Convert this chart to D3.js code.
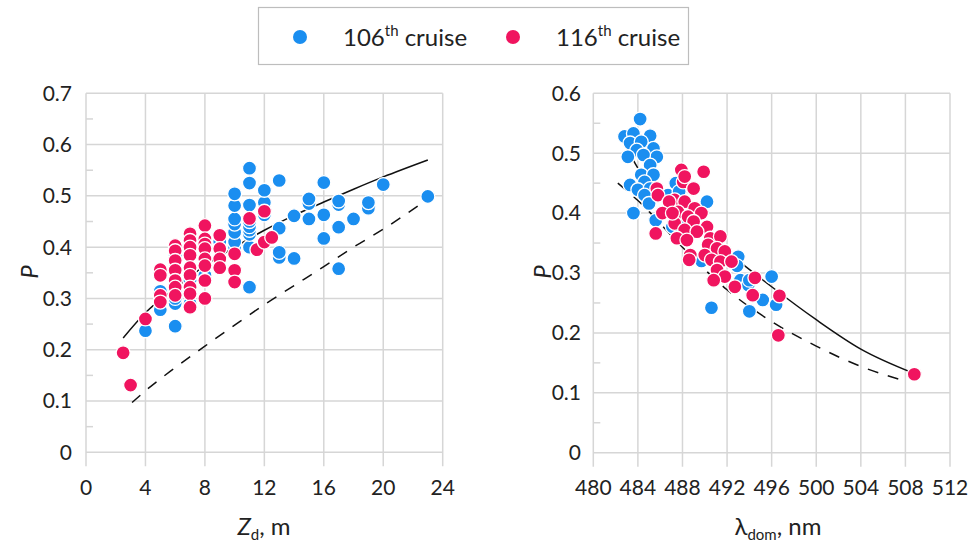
<!DOCTYPE html>
<html>
<head>
<meta charset="utf-8">
<script src="https://cdn.jsdelivr.net/npm/d3@7"></script>
<style>
  html, body { margin: 0; padding: 0; background: #fff; }
  svg { display: block; font-family: "Lato", "Open Sans", "Noto Sans", sans-serif; }
</style>
</head>
<body>
<svg id="chart" width="974" height="549"></svg>
<script>
// ---- Data: P vs Zd (left panel) ----
const zd106 = [4, 5, 5, 5, 6, 6, 6, 6, 6, 7, 7, 7, 8, 9,
  10, 10, 10, 10, 10, 10, 10, 11, 11, 11, 11, 11, 11, 11, 11, 11,
  12, 12, 12, 13, 13, 13, 13, 14, 14, 15, 15, 15, 16, 16, 16,
  17, 17, 17, 17, 18, 19, 19, 20, 23];
const pZd106 = [0.237, 0.278, 0.295, 0.314, 0.246, 0.29, 0.30, 0.315, 0.384, 0.29, 0.31, 0.335, 0.345, 0.41,
  0.40, 0.41, 0.429, 0.445, 0.455, 0.481, 0.504, 0.322, 0.40, 0.425, 0.433, 0.44, 0.45, 0.482, 0.525, 0.554,
  0.463, 0.487, 0.511, 0.38, 0.39, 0.437, 0.53, 0.378, 0.461, 0.455, 0.485, 0.494, 0.417, 0.463, 0.526,
  0.358, 0.439, 0.483, 0.49, 0.455, 0.476, 0.487, 0.522, 0.499];

const zd116 = [2.5, 3, 4, 5, 5, 5, 5, 6, 6, 6, 6, 6, 6, 6,
  7, 7, 7, 7, 7, 7, 7, 7, 7, 8, 8, 8, 8, 8, 8, 8, 8,
  9, 9, 9, 9, 10, 10, 10, 11, 11.5, 12, 12, 12.5];
const pZd116 = [0.194, 0.131, 0.26, 0.356, 0.345, 0.306, 0.293, 0.403, 0.393, 0.374, 0.355, 0.335, 0.322, 0.306,
  0.426, 0.413, 0.40, 0.384, 0.36, 0.345, 0.322, 0.309, 0.283, 0.442, 0.416, 0.406, 0.397, 0.377, 0.364, 0.335, 0.30,
  0.423, 0.397, 0.377, 0.36, 0.387, 0.355, 0.332, 0.456, 0.395, 0.47, 0.41, 0.419];

// Fitted relationships (left panel)
const zdFitX = [2.5, 4, 6, 8, 10, 12, 14, 16, 18, 20, 23];
const zdFitSolid = [0.223, 0.272, 0.32, 0.364, 0.40, 0.433, 0.462, 0.488, 0.513, 0.537, 0.570];
const zdFitDashX = [3.1, 4, 6, 8, 10, 12, 14, 16, 18, 20, 23];
const zdFitDash = [0.097, 0.12, 0.165, 0.207, 0.248, 0.288, 0.325, 0.362, 0.40, 0.435, 0.494];

// ---- Data: P vs dominant wavelength (right panel) ----
const lam106 = [484.2, 482.8, 483.6, 485.1, 483.3, 484.3, 483.9, 485.4, 485.7, 483.1, 484.5, 485.1,
  484.3, 485.4, 483.3, 484.6, 484.0, 485.1, 484.6, 488.2, 488.8, 487.5,
  483.6, 485.0, 486.9, 485.6, 486.7, 487.4, 487.7, 487.1, 488.2, 489.3, 489.7, 490.2,
  493.0, 492.9, 493.2, 493.9, 494.0, 495.2, 496.0, 496.4, 494.0, 490.6];
const pLam106 = [0.557, 0.528, 0.533, 0.529, 0.517, 0.519, 0.505, 0.508, 0.494, 0.494, 0.497, 0.48,
  0.464, 0.464, 0.447, 0.452, 0.439, 0.441, 0.43, 0.455, 0.441, 0.444,
  0.40, 0.416, 0.416, 0.388, 0.43, 0.45, 0.436, 0.377, 0.386, 0.377, 0.32, 0.419,
  0.327, 0.312, 0.288, 0.28, 0.288, 0.255, 0.294, 0.247, 0.236, 0.242];

const lam116 = [488.07, 488.97, 487.3, 488.2, 489.1, 489.7, 487.6, 488.5, 487.3, 489.0, 490.2, 488.2,
  489.3, 487.5, 488.4, 490.5, 491.4, 490.3, 491.1, 491.8, 488.7, 488.6, 490.0, 490.6,
  491.4, 492.4, 491.1, 491.8, 490.8, 492.7, 494.5, 494.3,
  487.9, 488.2, 485.7, 485.8, 489.9, 489.0, 486.8, 486.2, 485.6, 487.1, 496.7, 496.6, 508.8];
const pLam116 = [0.452, 0.44, 0.422, 0.419, 0.408, 0.40, 0.402, 0.394, 0.383, 0.386, 0.377, 0.372,
  0.369, 0.358, 0.355, 0.358, 0.361, 0.347, 0.341, 0.336, 0.33, 0.322, 0.33, 0.322,
  0.319, 0.319, 0.305, 0.294, 0.288, 0.277, 0.292, 0.263,
  0.472, 0.461, 0.441, 0.43, 0.469, 0.441, 0.419, 0.40, 0.366, 0.40, 0.262, 0.196, 0.131];

// Fitted relationships (right panel)
const lamFitX = [482.8, 484, 488, 492, 496, 500, 504, 508.7];
const lamFitSolid = [0.516, 0.475, 0.402, 0.336, 0.277, 0.222, 0.173, 0.133];
const lamFitDashX = [482.2, 484, 488, 492, 496, 500, 504, 507.7];
const lamFitDash = [0.45, 0.421, 0.343, 0.272, 0.219, 0.178, 0.144, 0.121];

// Axis ticks
const zdTicks = [0, 4, 8, 12, 16, 20, 24];
const pTicksLeft = [0, 0.1, 0.2, 0.3, 0.4, 0.5, 0.6, 0.7];
const lamTicks = [480, 484, 488, 492, 496, 500, 504, 508, 512];
const pTicksRight = [0, 0.1, 0.2, 0.3, 0.4, 0.5, 0.6];

const series = [
  { name: "106", color: "#1a8ef0" },
  { name: "116", color: "#f0145f" }
];

const svg = d3.select("#chart");
const GRID = "#d6d6d6";

function panel(cfg) {
  const x = d3.scaleLinear().domain(cfg.xDomain).range(cfg.xRange);
  const y = d3.scaleLinear().domain(cfg.yDomain).range(cfg.yRange);
  const g = svg.append("g");

  // horizontal grid
  g.selectAll(".hg").data(cfg.yTicks).join("line")
    .attr("x1", cfg.xRange[0]).attr("x2", cfg.xRange[1])
    .attr("y1", d => y(d)).attr("y2", d => y(d))
    .attr("stroke", GRID).attr("stroke-width", 1.5);
  // vertical grid extending below as tick marks
  g.selectAll(".vg").data(cfg.xTicks).join("line")
    .attr("x1", d => x(d)).attr("x2", d => x(d))
    .attr("y1", cfg.yRange[1]).attr("y2", cfg.yRange[0] + 14)
    .attr("stroke", GRID).attr("stroke-width", 1.5);
  // minor ticks on the value axis
  const minors = d3.range(0.05, cfg.yDomain[1], 0.1);
  g.selectAll(".mt").data(minors).join("line")
    .attr("x1", cfg.xRange[0]).attr("x2", cfg.xRange[0] + 7)
    .attr("y1", d => y(d)).attr("y2", d => y(d))
    .attr("stroke", GRID).attr("stroke-width", 1.5);

  // tick labels
  g.selectAll(".yl").data(cfg.yTicks).join("text")
    .attr("x", cfg.yLabelX).attr("y", d => y(d))
    .attr("dy", "0.35em").attr("text-anchor", "end")
    .attr("font-size", 21).attr("fill", "#222")
    .text(d => d === 0 ? "0" : d3.format(".1f")(d));
  g.selectAll(".xl").data(cfg.xTicks).join("text")
    .attr("x", d => x(d)).attr("y", 495)
    .attr("text-anchor", "middle")
    .attr("font-size", 21).attr("fill", "#222")
    .text(d => d);

  // fit curves
  const line = d3.line().x(d => x(d[0])).y(d => y(d[1])).curve(d3.curveMonotoneX);
  g.append("path").datum(d3.zip(cfg.fitX, cfg.fitSolid))
    .attr("d", line).attr("fill", "none").attr("stroke", "#111").attr("stroke-width", 1.5);
  g.append("path").datum(d3.zip(cfg.dashX, cfg.fitDash))
    .attr("d", line).attr("fill", "none").attr("stroke", "#111").attr("stroke-width", 1.5)
    .attr("stroke-dasharray", "11,10");

  // points: 106th first, 116th on top
  cfg.points.forEach((pts, i) => {
    g.append("g").selectAll("circle").data(pts).join("circle")
      .attr("cx", d => x(d[0])).attr("cy", d => y(d[1])).attr("r", 7)
      .attr("fill", series[i].color).attr("stroke", "#fff").attr("stroke-width", 1.3);
  });

  // axis titles
  g.append("text")
    .attr("transform", `translate(${cfg.pX},272) rotate(-90)`)
    .attr("text-anchor", "middle").attr("font-size", 24)
    .attr("font-style", "italic").attr("fill", "#222").text("P");
  const xt = g.append("text").attr("x", cfg.titleX).attr("y", 535)
    .attr("text-anchor", "middle").attr("font-size", 24).attr("fill", "#222");
  xt.append("tspan").attr("font-style", cfg.titleItalic ? "italic" : "normal").text(cfg.titleMain);
  xt.append("tspan").attr("font-size", 15).attr("dy", 5).text(cfg.titleSub);
  xt.append("tspan").attr("dy", -5).text(cfg.titleRest);
}

panel({
  xDomain: [0, 24], xRange: [86, 442.7],
  yDomain: [0, 0.7], yRange: [452.3, 93.3],
  xTicks: zdTicks, yTicks: pTicksLeft, yLabelX: 72,
  fitX: zdFitX, fitSolid: zdFitSolid, dashX: zdFitDashX, fitDash: zdFitDash,
  points: [d3.zip(zd106, pZd106), d3.zip(zd116, pZd116)],
  pX: 38, titleX: 264, titleMain: "Z", titleItalic: true, titleSub: "d", titleRest: ", m"
});

panel({
  xDomain: [480, 512], xRange: [593.3, 950],
  yDomain: [0, 0.6], yRange: [452.7, 93.3],
  xTicks: lamTicks, yTicks: pTicksRight, yLabelX: 581,
  fitX: lamFitX, fitSolid: lamFitSolid, dashX: lamFitDashX, fitDash: lamFitDash,
  points: [d3.zip(lam106, pLam106), d3.zip(lam116, pLam116)],
  pX: 551, titleX: 778, titleMain: "λ", titleItalic: false, titleSub: "dom", titleRest: ", nm"
});

// legend
const lg = svg.append("g");
lg.append("rect").attr("x", 258.5).attr("y", 7.5).attr("width", 430).attr("height", 57)
  .attr("fill", "#fff").attr("stroke", "#bdbdbd").attr("stroke-width", 1.2);
const legendPos = [{ dot: 300, text: 343 }, { dot: 513, text: 556 }];
series.forEach((s, i) => {
  lg.append("circle").attr("cx", legendPos[i].dot).attr("cy", 37).attr("r", 7)
    .attr("fill", s.color);
  const t = lg.append("text").attr("x", legendPos[i].text).attr("y", 46)
    .attr("font-size", 24).attr("fill", "#222");
  t.append("tspan").text(s.name);
  t.append("tspan").attr("font-size", 15).attr("dy", -10).text("th");
  t.append("tspan").attr("dy", 10).text(" cruise");
});
</script>
</body>
</html>
